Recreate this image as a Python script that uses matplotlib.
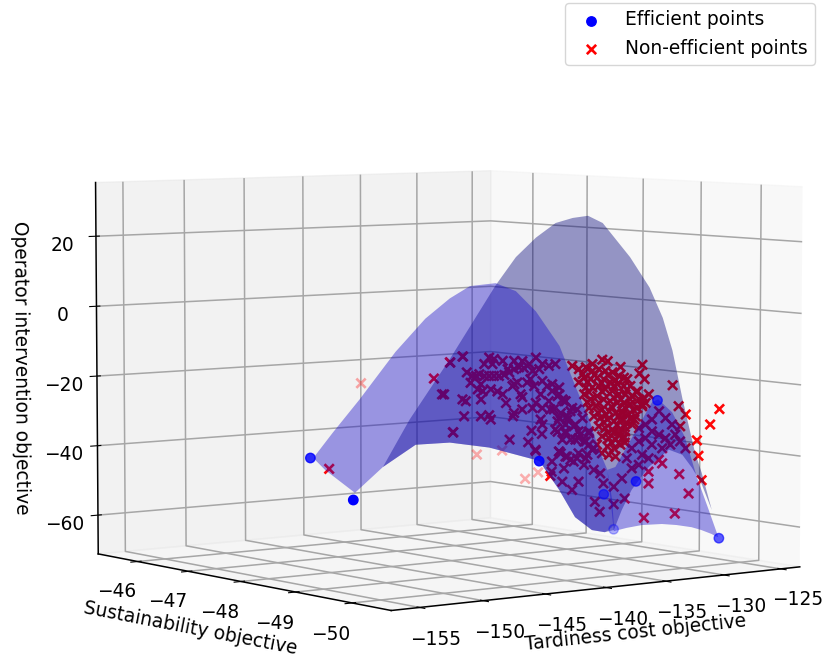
import numpy as np
import matplotlib
matplotlib.use('Agg')
import matplotlib.pyplot as plt
from mpl_toolkits.mplot3d.art3d import Poly3DCollection

# efficient points
eff_x = [-154.7, -156.2, -144.2, -132.8, -134.1, -132.8, -129.0, -126.1]
eff_y = [-48.7, -49.8, -50.4, -49.2, -50.0, -50.1, -50.4, -48.05]
eff_z = [-36.4, -44.7, -36.3, -51.5, -45.6, -23.2, -62.0, -66.5]

# non-efficient points
non_x = [-143.64, -142.94, -142.76, -143.94, -142.80, -142.98, -142.89, -143.47, -142.01, -141.57, -141.48, -140.30, -140.25, -139.81, -140.48, -139.32, -138.79, -139.50, -139.11,
         -142.27, -142.45, -142.10, -141.83, -141.57, -141.31, -141.04, -140.78, -140.52, -140.25, -139.99, -139.73, -139.46, -141.83, -141.57, -141.31, -140.87, -140.25, -139.11, -138.76, -138.93, -139.29, -138.41, -138.06,
         -142.54, -142.19, -141.92, -142.01, -141.48, -140.87, -140.69, -140.34, -139.90, -140.08, -139.55, -139.20, -138.76, -138.50, -138.23, -137.88, -137.97, -137.62, -139.11, -138.76, -139.29, -138.41, -138.14, -137.79, -137.44, -137.27, -137.97, -137.53, -138.85, -138.06, -137.53, -137.09, -136.83, -137.70, -137.00, -136.56, -136.30, -136.30, -137.88, -137.44, -136.83, -137.09, -138.23, -136.48,
         -135.59, -133.49, -133.63, -133.35, -133.13, -137.18, -136.82, -136.47, -136.12, -135.77, -135.42, -135.07, -134.72, -134.45, -136.56, -136.21, -135.86, -135.51, -135.16, -134.80, -134.45, -134.10, -136.82, -136.47, -136.12, -135.77, -135.42, -135.07, -134.72, -134.37, -134.01, -133.66, -133.40, -136.56, -136.21, -135.86, -135.51, -135.16, -134.80, -134.45, -134.10, -133.75, -133.49, -136.30, -135.95, -135.59, -135.24, -134.89, -134.54, -134.19, -133.84, -136.03, -135.68, -135.33, -134.98, -134.63, -134.28, -134.01, -135.77, -135.42, -135.07, -134.72, -134.37, -135.59, -135.24, -134.89, -134.54, -135.33, -134.98, -134.63, -135.24, -134.89, -135.59,
         -133.66, -133.31, -132.96, -132.61, -132.26, -131.91, -132.96, -132.61, -132.26, -133.31, -133.66, -134.01, -132.96, -132.43, -131.99, -131.73, -131.47, -131.20, -134.28, -133.49, -133.13, -132.61,
         -137.88, -137.53, -137.26, -136.82, -136.47, -137.00, -137.53, -137.88, -137.18, -137.53, -137.88, -136.65, -136.30, -136.03,
         -139.14, -138.26, -137.79, -137.61, -137.70, -137.17, -136.82, -137.26, -136.91, -136.56, -136.03, -135.68, -136.38, -135.86, -135.51, -134.98, -135.98, -135.72, -134.98, -134.40, -134.54, -134.01, -133.66, -133.13, -132.43, -133.13,
         -144.50, -144.06, -143.62, -142.97, -143.48, -150.04, -138.32, -129.39, -129.87, -130.59, -130.50, -130.32, -131.02, -131.52, -131.73, -133.36, -131.87, -131.55, -131.20, -131.46,
         -140.4, -134.0, -132.6, -131.3, -130.6,
         -136.65, -136.0, -135.3, -134.9, -136.4, -135.65, -135.0, -134.3, -133.8, -136.3, -135.6, -135.0, -134.6, -133.3, -136.4, -135.75, -135.1, -134.4, -133.95, -135.8, -135.4, -134.7, -134.1, -135.5, -134.8, -134.4, -135.3, -134.7, -135.1, -134.4,
         -134.27, -133.74, -134.11, -133.48, -134.54, -133.90, -134.96, -134.43, -136.12, -135.33, -134.64,
         -141.39, -140.60, -139.81, -142.02, -141.12, -140.23, -139.38, -139.81, -138.86, -138.23, -138.33, -137.70, -137.43, -136.91, -136.75, -136.12, -137.96, -138.75]
non_y = [-48.75, -48.83, -48.86, -48.71, -48.85, -48.83, -48.84, -48.77, -48.95, -49.00, -49.01, -49.15, -49.16, -49.21, -49.13, -49.27, -49.34, -49.25, -49.30,
         -48.92, -48.89, -48.94, -48.97, -49.00, -49.03, -49.06, -49.10, -49.13, -49.16, -49.19, -49.22, -49.26, -48.97, -49.00, -49.03, -49.09, -49.16, -49.30, -49.34, -49.32, -49.28, -49.38, -49.42,
         -48.88, -48.93, -48.96, -48.95, -49.01, -49.09, -49.11, -49.15, -49.20, -49.18, -49.24, -49.29, -49.34, -49.37, -49.40, -49.45, -49.44, -49.48, -49.30, -49.34, -49.28, -49.38, -49.41, -49.46, -49.50, -49.52, -49.44, -49.49, -49.33, -49.42, -49.49, -49.54, -49.57, -49.47, -49.55, -49.61, -49.64, -49.64, -49.45, -49.50, -49.57, -49.54, -49.40, -49.62,
         -49.72, -49.98, -49.96, -49.99, -50.02, -49.53, -49.57, -49.62, -49.66, -49.70, -49.74, -49.79, -49.83, -49.86, -49.61, -49.65, -49.69, -49.73, -49.77, -49.82, -49.86, -49.90, -49.57, -49.62, -49.66, -49.70, -49.74, -49.79, -49.83, -49.87, -49.91, -49.96, -49.99, -49.61, -49.65, -49.69, -49.73, -49.77, -49.82, -49.86, -49.90, -49.95, -49.98, -49.64, -49.68, -49.72, -49.77, -49.81, -49.85, -49.89, -49.94, -49.67, -49.71, -49.76, -49.80, -49.84, -49.88, -49.91, -49.70, -49.74, -49.79, -49.83, -49.87, -49.72, -49.77, -49.81, -49.85, -49.76, -49.80, -49.84, -49.77, -49.81, -49.72,
         -49.96, -50.00, -50.04, -50.09, -50.13, -50.17, -50.04, -50.09, -50.13, -50.00, -49.96, -49.91, -50.04, -50.11, -50.16, -50.19, -50.22, -50.26, -49.88, -49.98, -50.02, -50.09,
         -49.45, -49.49, -49.52, -49.57, -49.62, -49.55, -49.49, -49.45, -49.53, -49.49, -49.45, -49.60, -49.64, -49.67,
         -49.30, -49.40, -49.46, -49.48, -49.47, -49.53, -49.57, -49.52, -49.56, -49.61, -49.67, -49.71, -49.63, -49.69, -49.73, -49.80, -49.68, -49.71, -49.80, -49.87, -49.85, -49.91, -49.96, -50.02, -50.11, -50.02,
         -48.65, -48.70, -48.75, -48.83, -48.77, -47.98, -49.39, -50.47, -50.41, -50.33, -50.34, -50.36, -50.28, -50.22, -50.19, -49.99, -50.17, -50.21, -50.26, -50.22,
         -46.41, -47.19, -47.36, -47.51, -47.60,
         -49.60, -49.67, -49.76, -49.81, -49.63, -49.72, -49.80, -49.88, -49.94, -49.64, -49.72, -49.80, -49.84, -50.00, -49.63, -49.70, -49.78, -49.87, -49.92, -49.70, -49.75, -49.83, -49.90, -49.73, -49.82, -49.87, -49.76, -49.83, -49.78, -49.87,
         -49.88, -49.95, -49.90, -49.98, -49.85, -49.93, -49.80, -49.87, -49.66, -49.76, -49.84,
         -49.02, -49.12, -49.21, -48.95, -49.05, -49.16, -49.26, -49.21, -49.33, -49.40, -49.39, -49.47, -49.50, -49.56, -49.58, -49.66, -49.44, -49.34]
non_z = [-12.7, -11.1, -15.5, -21.6, -23.5, -23.0, -27.7, -32.1, -27.7, -27.4, -28.6, -27.7, -26.8, -25.8, -34.2, -31.7, -32.6, -34.9, -37.3,
         -16.5, -16.5, -16.0, -16.5, -16.5, -16.5, -16.5, -16.2, -15.5, -14.6, -14.1, -14.3, -13.2, -13.2, -11.4, -11.8, -12.3, -12.3, -11.4, -13.2, -14.6, -15.1, -13.7, -13.2,
         -18.4, -20.2, -20.7, -23.0, -20.2, -21.6, -24.0, -19.3, -21.6, -18.3, -18.3, -19.3, -17.9, -19.3, -20.7, -19.7, -22.1, -23.5, -24.0, -25.4, -25.4, -23.5, -25.8, -26.8, -27.7, -26.3, -29.1, -30.0, -28.6, -31.4, -32.4, -30.5, -31.9, -34.2, -34.2, -34.7, -32.4, -35.6, -37.5, -38.9, -38.0, -40.3, -40.3, -39.4,
         -12.0, -13.4, -15.8, -17.4, -21.6, -13.7, -14.6, -14.1, -15.1, -14.6, -15.1, -15.5, -16.5, -17.0, -17.0, -17.4, -17.0, -17.4, -18.3, -18.8, -19.3, -19.3, -18.3, -19.7, -19.7, -19.3, -20.2, -20.7, -21.6, -21.6, -22.1, -23.0, -22.6, -21.6, -23.0, -22.1, -23.0, -23.5, -24.0, -24.0, -24.4, -25.4, -24.9, -25.4, -24.9, -25.8, -26.3, -26.8, -26.3, -27.2, -27.7, -27.7, -28.2, -28.6, -29.1, -28.6, -29.6, -30.0, -30.5, -31.0, -31.4, -31.9, -31.9, -33.3, -33.8, -34.2, -33.8, -36.1, -36.6, -35.6, -38.4, -38.9, -38.0,
         -31.0, -30.0, -28.6, -26.3, -28.2, -30.0, -31.9, -32.8, -33.8, -33.8, -34.7, -36.6, -35.6, -36.6, -35.6, -32.8, -34.7, -36.6, -39.4, -38.4, -39.4, -39.8,
         -37.5, -38.9, -34.2, -33.8, -34.7, -30.0, -31.9, -28.2, -25.4, -23.5, -21.6, -28.2, -31.9, -36.6,
         -37.0, -43.1, -38.0, -42.2, -45.9, -48.2, -45.9, -39.8, -39.4, -41.2, -42.6, -43.6, -38.4, -35.6, -46.4, -47.3, -51.5, -54.3, -52.2, -50.6, -45.0, -42.2, -41.2, -43.1, -40.8, -46.4,
         -17.2, -21.6, -12.8, -11.1, -32.2, -42.3, -44.3, -25.7, -30.0, -34.4, -38.7, -45.5, -49.2, -43.8, -54.8, -56.0, -19.1, -24.9, -27.2, -30.5,
         -23.6, -44.4, -43.2, -51.5, -49.6,
         -16.0, -16.2, -16.3, -17.7, -18.2, -18.4, -19.3, -20.4, -20.9, -21.0, -20.8, -22.5, -23.0, -24.0, -23.8, -24.0, -25.0, -25.3, -25.9, -26.8, -27.3, -27.5, -28.4, -29.4, -30.2, -30.7, -32.2, -32.8, -35.0, -35.0,
         -17.4, -20.8, -23.0, -24.4, -27.2, -28.6, -32.0, -33.6, -13.2, -12.4, -14.0,
         -13.2, -14.6, -12.4, -18.8, -20.8, -18.8, -17.4, -22.4, -21.6, -18.8, -25.8, -23.0, -28.6, -25.8, -32.8, -37.0, -32.0, -30.0]

# fitted surface, read as three sheets (upper edge / lower edge of each)
s1_top_x = [-150.82, -149.82, -148.40, -146.50, -144.92, -143.65, -142.60, -141.23, -140.17, -139.12, -137.86, -137.01, -136.27, -135.75, -135.33, -135.06, -134.96]
s1_top_y = [-47.88, -48.00, -48.17, -48.40, -48.59, -48.75, -48.88, -49.04, -49.17, -49.30, -49.45, -49.55, -49.64, -49.70, -49.76, -49.79, -49.80]
s1_top_z = [-39.0, -32.2, -23.0, -9.8, -0.6, 5.0, 8.4, 9.2, 7.0, 1.4, -8.2, -19.4, -28.6, -37.0, -42.6, -51.0, -58.0]
s1_low_x = [-150.82, -150.24, -148.66, -147.18, -145.45, -143.65, -141.55, -138.91, -137.86, -137.01, -136.12, -135.43, -135.22, -135.12, -135.06, -135.01, -134.96]
s1_low_y = [-47.88, -47.95, -48.14, -48.32, -48.53, -48.75, -49.00, -49.32, -49.45, -49.55, -49.66, -49.74, -49.77, -49.78, -49.79, -49.79, -49.80]
s1_low_z = [-39.5, -42.6, -49.0, -41.8, -35.6, -35.0, -36.4, -40.1, -48.2, -55.8, -59.4, -60.0, -59.4, -58.8, -58.6, -58.3, -58.0]

s2_top_x = [-148.66, -147.18, -145.76, -143.65, -141.23, -140.17, -139.12, -138.07, -137.17, -136.38, -135.59, -134.17, -133.11, -132.43, -131.90, -131.37, -130.69, -130.32, -129.79, -129.42]
s2_top_y = [-48.14, -48.32, -48.49, -48.75, -49.04, -49.17, -49.30, -49.42, -49.53, -49.63, -49.72, -49.90, -50.02, -50.11, -50.17, -50.24, -50.32, -50.36, -50.43, -50.47]
s2_top_z = [-49.0, -41.8, -28.6, -11.8, 8.6, 16.4, 21.8, 25.8, 27.2, 27.8, 25.8, 16.4, 8.0, -0.4, -9.4, -23.0, -37.8, -43.4, -53.8, -61.4]
s2_low_x = [-148.66, -147.18, -145.45, -143.65, -141.55, -138.91, -137.86, -137.01, -136.12, -135.43, -134.96, -134.54, -134.01, -133.11, -132.06, -131.37, -130.85, -130.32, -129.79, -129.42]
s2_low_y = [-48.14, -48.32, -48.53, -48.75, -49.00, -49.32, -49.45, -49.55, -49.66, -49.74, -49.80, -49.85, -49.91, -50.02, -50.15, -50.24, -50.30, -50.36, -50.43, -50.47]
s2_low_z = [-49.0, -41.8, -35.6, -35.0, -36.4, -40.1, -48.2, -55.8, -59.4, -60.0, -59.4, -53.8, -48.2, -41.8, -37.0, -38.4, -42.0, -46.5, -53.8, -61.4]

s3_top_x = [-135.33, -134.90, -133.85, -132.96, -132.64, -131.90, -131.22, -130.58, -129.95, -129.42]
s3_top_y = [-49.76, -49.81, -49.93, -50.04, -50.08, -50.17, -50.25, -50.33, -50.41, -50.47]
s3_top_z = [-42.6, -41.8, -32.2, -23.8, -23.0, -26.6, -33.4, -44.6, -53.8, -61.4]
s3_low_x = [-134.96, -134.27, -133.48, -132.43, -131.64, -130.85, -130.32, -129.79, -129.58, -129.42]
s3_low_y = [-49.80, -49.88, -49.98, -50.11, -50.20, -50.30, -50.36, -50.43, -50.45, -50.47]
s3_low_z = [-59.7, -58.8, -58.0, -57.7, -58.0, -58.6, -59.4, -60.5, -61.1, -61.4]

x_ticks = [-155, -150, -145, -140, -135, -130, -125]
y_ticks = [-50, -49, -48, -47, -46]
z_ticks = [-60, -40, -20, 0, 20]

FS = 13.4
BLUE_SHEET = '#1408c8'
DARK_SHEET = '#000078'

def sheet(ax, tx, ty, tz, lx, ly, lz, color, zo):
    # outline: along the upper edge, back along the lower one
    verts = list(zip(tx, ty, tz)) + list(zip(lx, ly, lz))[::-1]
    poly = Poly3DCollection([verts], facecolors=color, edgecolors='none', alpha=0.4, zorder=zo)
    ax.add_collection3d(poly, autolim=False)

plt.rcParams.update({'grid.linewidth': 1.1, 'grid.color': '#a6a6a6', 'axes.linewidth': 1.1})

fig = plt.figure(figsize=(8.22, 6.58), dpi=100)
ax = fig.add_axes([0.031, -0.055, 1.0, 0.95], projection='3d')
ax.computed_zorder = False
ax.set_proj_type('persp', focal_length=1.25)
ax.view_init(elev=5, azim=-127)
ax.set_box_aspect(None, zoom=1.25)
ax.set_xlim(-157.2, -123.3)
ax.set_ylim(-50.67, -45.2)
ax.set_zlim(-71.2, 35.3)

ax.scatter(non_x, non_y, non_z, c='red', marker='x', s=45, linewidths=1.9, zorder=2, label='Non-efficient points')
sheet(ax, s2_top_x, s2_top_y, s2_top_z, s2_low_x, s2_low_y, s2_low_z, DARK_SHEET, 3)
sheet(ax, s1_top_x, s1_top_y, s1_top_z, s1_low_x, s1_low_y, s1_low_z, BLUE_SHEET, 4)
sheet(ax, s3_top_x, s3_top_y, s3_top_z, s3_low_x, s3_low_y, s3_low_z, BLUE_SHEET, 4)
ax.scatter(eff_x, eff_y, eff_z, c='blue', s=46, zorder=5, label='Efficient points')

ax.set_xticks(x_ticks)
ax.set_yticks(y_ticks)
ax.set_zticks(z_ticks)
ax.tick_params(labelsize=FS)
ax.set_xlabel('Tardiness cost objective', fontsize=FS, labelpad=2)
ax.set_ylabel('Sustainability objective', fontsize=FS, labelpad=4.5)
ax.set_zlabel('Operator intervention objective', fontsize=FS, labelpad=5)

handles, labels = ax.get_legend_handles_labels()
ax.legend(handles[::-1], labels[::-1], loc='upper right', fontsize=FS,
          bbox_to_anchor=(815 / 822, 1 - 3 / 658), bbox_transform=fig.transFigure,
          borderaxespad=0)
fig.savefig('out.png', dpi=100)
